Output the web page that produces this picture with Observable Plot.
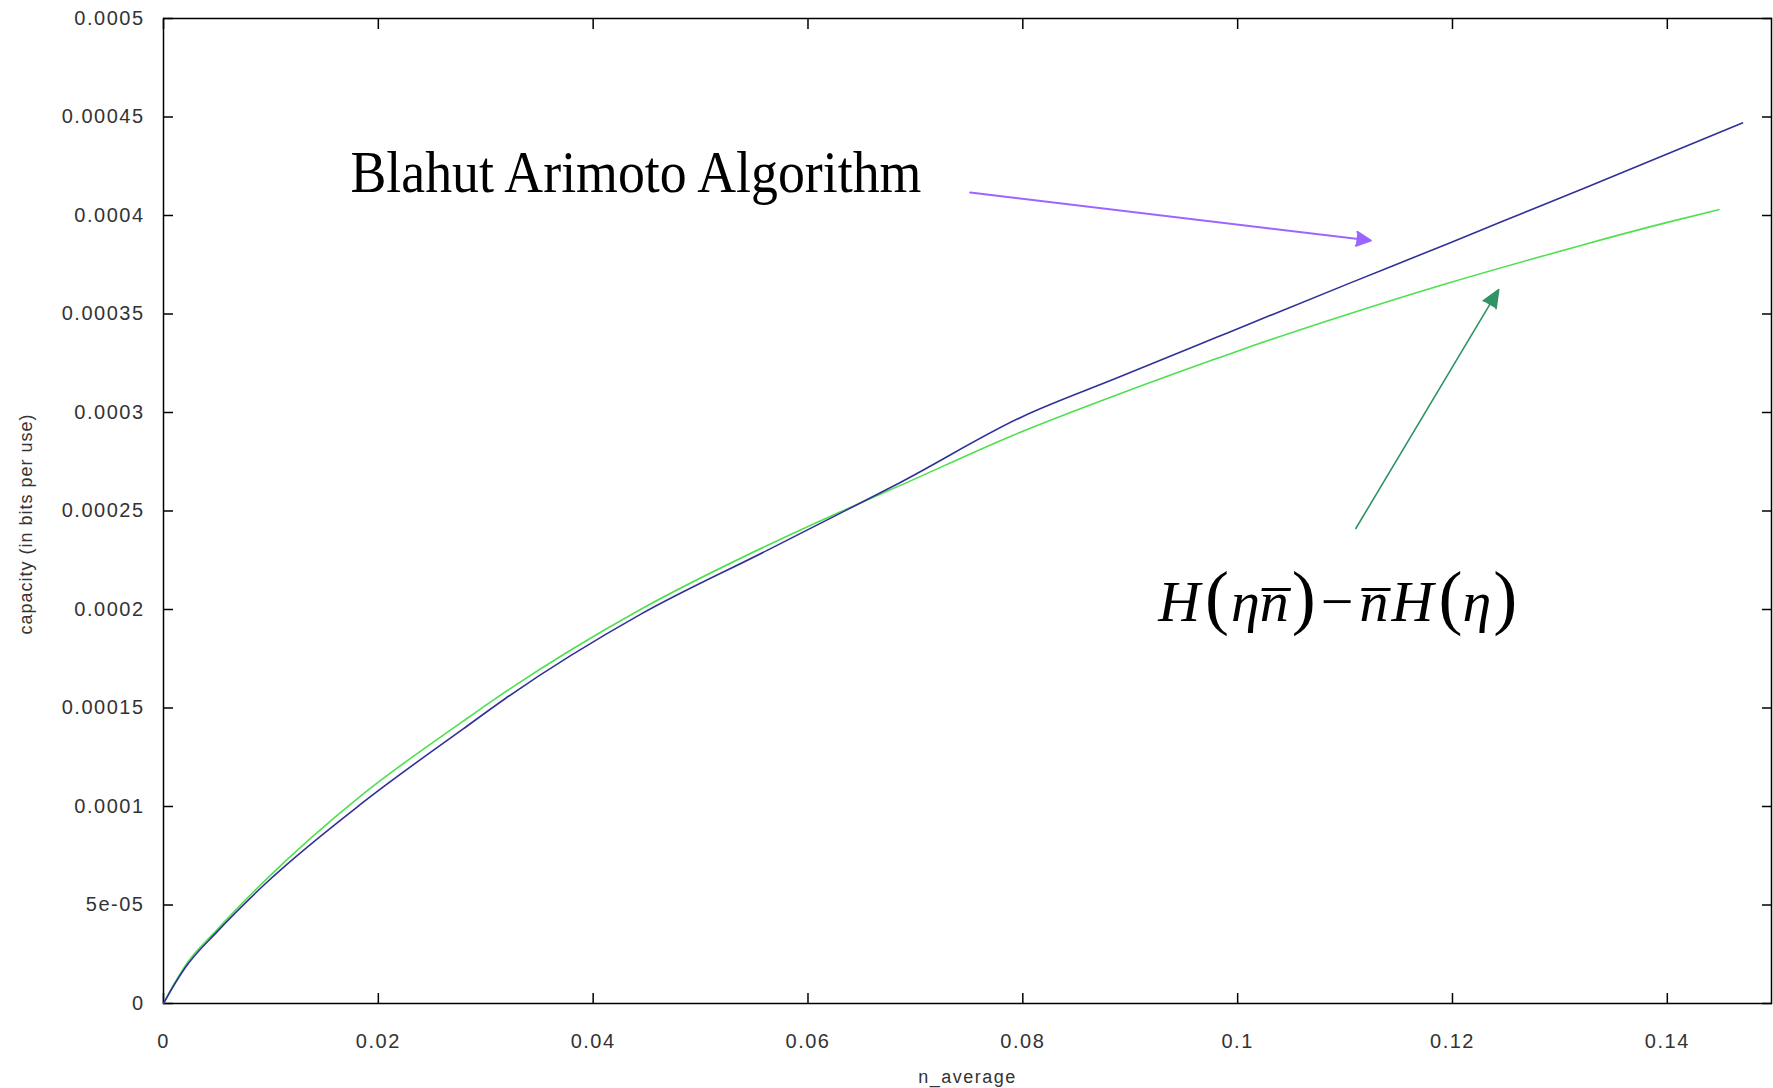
<!DOCTYPE html>
<html>
<head>
<meta charset="utf-8">
<script src="https://cdn.jsdelivr.net/npm/d3@7"></script>
<script src="https://cdn.jsdelivr.net/npm/@observablehq/plot@0.6"></script>
<style>
  html, body { margin: 0; padding: 0; background: #fff; }
</style>
</head>
<body>
<script>
// ---- data ----
const nBlahut = [0, 0.001, 0.002, 0.005, 0.0093, 0.0186, 0.0279, 0.0318, 0.0444, 0.0562, 0.0633, 0.0686, 0.08, 0.0888, 0.0981, 0.1012, 0.1105, 0.1198, 0.1245, 0.1322, 0.147];
const capBlahut = [0, 0.0000095, 0.0000180, 0.0000365, 0.0000599, 0.0001022, 0.0001394, 0.0001547, 0.0001975, 0.0002300, 0.0002497, 0.0002645, 0.000298, 0.0003176, 0.0003383, 0.0003452, 0.0003658, 0.0003862, 0.0003967, 0.0004137, 0.000447];

const nFormula = [0, 0.001, 0.002, 0.005, 0.0093, 0.0186, 0.0279, 0.0307, 0.0444, 0.0562, 0.0633, 0.0686, 0.0789, 0.0888, 0.0981, 0.1012, 0.1105, 0.1198, 0.1291, 0.1322, 0.14, 0.1448];
const capFormula = [0, 0.0000101, 0.0000190, 0.0000375, 0.0000616, 0.0001064, 0.0001433, 0.0001540, 0.0002, 0.0002325, 0.0002503, 0.0002630, 0.0002880, 0.0003090, 0.0003275, 0.0003335, 0.0003503, 0.0003660, 0.0003805, 0.0003852, 0.0003965, 0.000403];

const xTicks = [0, 0.02, 0.04, 0.06, 0.08, 0.1, 0.12, 0.14];
const xTickLabels = ["0", "0.02", "0.04", "0.06", "0.08", "0.1", "0.12", "0.14"];
const yTicks = [0, 0.00005, 0.0001, 0.00015, 0.0002, 0.00025, 0.0003, 0.00035, 0.0004, 0.00045, 0.0005];
const yTickLabels = ["0", "5e-05", "0.0001", "0.00015", "0.0002", "0.00025", "0.0003", "0.00035", "0.0004", "0.00045", "0.0005"];

const xLabel = "n_average";
const yLabel = "capacity (in bits per use)";

const blahutLabel = "Blahut Arimoto Algorithm";
const formulaLabel = "H(\u03B7n\u0305)\u2212n\u0305H(\u03B7)";

// annotation anchors (data coordinates)
const labelN = [0.0174, 0.0926];
const labelCap = [0.0004117, 0.0001944];
// arrows: [blahut arrow, formula arrow]
const arrowN1 = [0.0751, 0.1110];
const arrowCap1 = [0.0004117, 0.0002411];
const arrowN2 = [0.1124, 0.1243];
const arrowCap2 = [0.0003873, 0.0003624];

// ---- chart ----
const W = 1773, H = 1088;
const chart = Plot.plot({
  width: W,
  height: H,
  marginLeft: 163,
  marginRight: 2,
  marginTop: 18,
  marginBottom: 85,
  style: {
    fontFamily: "'Liberation Sans', Arial, sans-serif",
    fontSize: "20px",
    color: "#333",
    background: "#fff",
    letterSpacing: "1.5px"
  },
  x: {domain: [0, 0.1497]},
  y: {domain: [0, 0.0005]},
  marks: [
    Plot.axisX({anchor: "bottom", ticks: xTicks, tickSize: -10, tickPadding: 40, stroke: "#000", strokeWidth: 1.5,
      tickFormat: d => xTickLabels[xTicks.indexOf(d)], label: null}),
    Plot.axisX({anchor: "top", ticks: xTicks, tickSize: -10, stroke: "#000", strokeWidth: 1.5, fill: "none", label: null}),
    Plot.axisY({anchor: "left", ticks: yTicks, tickSize: -10, tickPadding: 29, stroke: "#000", strokeWidth: 1.5,
      tickFormat: d => yTickLabels[yTicks.indexOf(d)], label: null}),
    Plot.axisY({anchor: "right", ticks: yTicks, tickSize: -10, stroke: "#000", strokeWidth: 1.5, fill: "none", label: null}),
    Plot.frame({stroke: "#000", strokeWidth: 1.5}),
    Plot.line(nFormula, {x: nFormula, y: capFormula, stroke: "#4ee04e", strokeWidth: 1.6, curve: "monotone-x"}),
    Plot.line(nBlahut, {x: nBlahut, y: capBlahut, stroke: "#30309a", strokeWidth: 1.6, curve: "monotone-x"}),
    Plot.arrow([0], {x1: [arrowN1[0]], y1: [arrowCap1[0]], x2: [arrowN2[0]], y2: [arrowCap2[0]],
      stroke: "#9b66ff", fill: "#9b66ff", strokeWidth: 2, headLength: 12, headAngle: 52}),
    Plot.arrow([0], {x1: [arrowN1[1]], y1: [arrowCap1[1]], x2: [arrowN2[1]], y2: [arrowCap2[1]],
      stroke: "#2e9463", fill: "#2e9463", strokeWidth: 1.6, headLength: 18, headAngle: 46}),
    Plot.text([blahutLabel], {x: [labelN[0]], y: [labelCap[0]], text: d => d, textAnchor: "start", lineAnchor: "bottom",
      fontFamily: "'Liberation Serif', 'Times New Roman', serif", fontSize: 60, fill: "#000"}),
    Plot.text([formulaLabel], {x: [labelN[1]], y: [labelCap[1]], text: d => d, textAnchor: "start", lineAnchor: "bottom",
      fontFamily: "'Liberation Serif', 'Times New Roman', serif", fontSize: 58, fill: "#000"}),
    Plot.text([xLabel], {frameAnchor: "bottom", dy: 74, text: d => d, textAnchor: "middle", lineAnchor: "middle", fontSize: 18, fill: "#333"}),
    Plot.text([yLabel], {frameAnchor: "left", dx: -137, dy: 13, rotate: -90, text: d => d, textAnchor: "middle", lineAnchor: "middle", fontSize: 18, fill: "#333"})
  ]
});
document.body.append(chart);

// ---- typographic touch-ups of the annotation texts ----
const texts = [...chart.querySelectorAll("text")];
const tY = texts.find(t => t.textContent === yLabel);
if (tY) tY.style.letterSpacing = "1px";
const tB = texts.find(t => t.textContent === blahutLabel);
if (tB) {
  tB.style.letterSpacing = "0px";
  tB.setAttribute("textLength", "571");
  tB.setAttribute("lengthAdjust", "spacingAndGlyphs");
}
const tF = texts.find(t => t.textContent === formulaLabel);
if (tF) {
  tF.style.letterSpacing = "0px";
  const parts = [
    ["H", "i", 0], ["(", "p", 5], ["\u03B7", "i", 2], ["n\u0305", "i", 0], [")", "p", 3],
    ["\u2212", "m", 5], ["n\u0305", "i", 6], ["H", "i", 3], ["(", "p", 5], ["\u03B7", "i", 0], [")", "p", 2]
  ];
  tF.textContent = "";
  for (const [s, k, dx] of parts) {
    const ts = document.createElementNS("http://www.w3.org/2000/svg", "tspan");
    ts.textContent = s;
    if (k === "i") ts.setAttribute("font-style", "italic");
    if (k === "p") ts.setAttribute("font-size", "72");
    if (dx) ts.setAttribute("dx", String(dx));
    tF.appendChild(ts);
  }
}
</script>
</body>
</html>
